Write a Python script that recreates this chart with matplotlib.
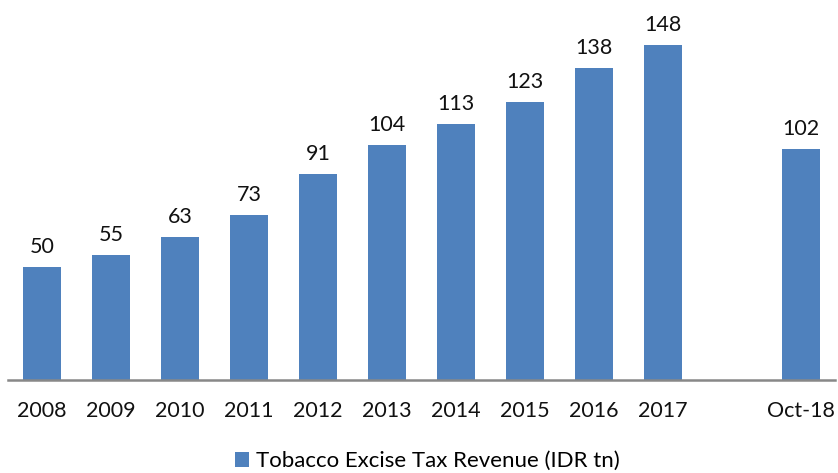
import matplotlib
matplotlib.use("Agg")
import matplotlib.pyplot as plt
from matplotlib.patches import Patch

# annual tobacco excise revenue, IDR trillion
years = ["2008", "2009", "2010", "2011", "2012", "2013", "2014", "2015", "2016", "2017", "Oct-18"]
revenue = [50, 55, 63, 73, 91, 104, 113, 123, 138, 148, 102]
# slot index on the x axis; one empty slot before the year-to-date bar
slots = [0, 1, 2, 3, 4, 5, 6, 7, 8, 9, 11]

BLUE = "#4F81BD"
plt.rcParams["font.family"] = ["Lato", "DejaVu Sans"]

fig = plt.figure(figsize=(8.38, 4.73), dpi=100)
ax = fig.add_axes([0.009, 0.197, 0.988, 0.803])

bars = ax.bar(slots, revenue, width=0.56, color=BLUE, zorder=2)
for x, v in zip(slots, revenue):
    ax.text(x, v + 4.5, f"{v}", ha="center", va="bottom", fontsize=15.5, color="#111111")

ax.set_xlim(-0.5, 11.5)
ax.set_ylim(0, 168)
ax.set_xticks(slots)
ax.set_xticklabels(years, fontsize=15.5, color="#111111")
ax.tick_params(axis="x", length=0, pad=15)
ax.set_yticks([])
for side in ("top", "right", "left"):
    ax.spines[side].set_visible(False)
ax.spines["bottom"].set_color("#888888")
ax.spines["bottom"].set_linewidth(1.8)

fig.legend(handles=[Patch(facecolor=BLUE)],
           labels=["Tobacco Excise Tax Revenue (IDR tn)"],
           loc="center", bbox_to_anchor=(0.51, 0.025), frameon=False,
           fontsize=16, handlelength=0.65, handleheight=0.65, handletextpad=0.3)

fig.savefig("out.png", dpi=100, facecolor="white")
